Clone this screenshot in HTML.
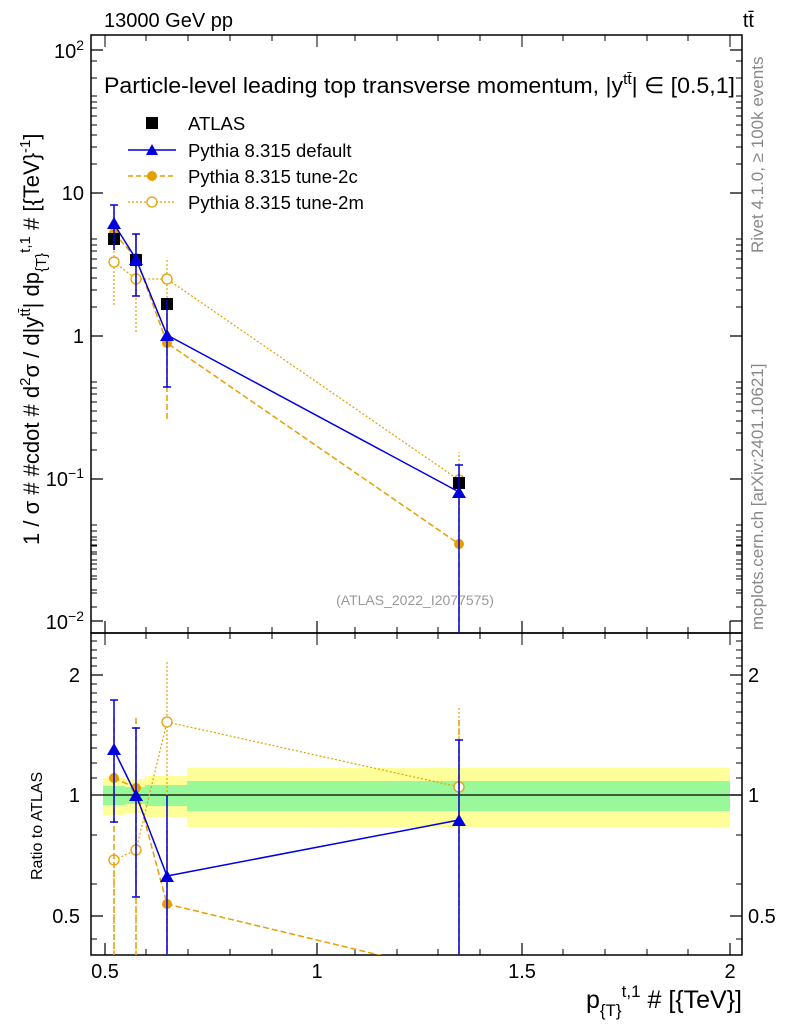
<!DOCTYPE html>
<html><head><meta charset="utf-8"><style>
body{margin:0;background:#fff}
text{font-family:"Liberation Sans",sans-serif}
</style></head><body>
<svg width="786" height="1024" viewBox="0 0 786 1024" xmlns="http://www.w3.org/2000/svg">
<g>
<rect x="103" y="778" width="22" height="37" fill="#ffff99"/>
<rect x="125" y="779" width="20" height="34" fill="#ffff99"/>
<rect x="145" y="776" width="42" height="41" fill="#ffff99"/>
<rect x="187" y="768" width="543" height="59" fill="#ffff99"/>
<rect x="103" y="786" width="22" height="19" fill="#99f899"/>
<rect x="125" y="787" width="20" height="17" fill="#99f899"/>
<rect x="145" y="785" width="42" height="21" fill="#99f899"/>
<rect x="187" y="781" width="543" height="30" fill="#99f899"/>
<line x1="103" y1="795" x2="742" y2="795" stroke="#000" stroke-width="1.3"/>
</g>
<rect x="91" y="35" width="651" height="598" fill="none" stroke="#000" stroke-width="1.5"/>
<rect x="91" y="633" width="651" height="322" fill="none" stroke="#000" stroke-width="1.5"/>
<g stroke="#000" stroke-width="1.2">
<path d="M91,50h12M730,50h12M91,193h12M730,193h12M91,336h12M730,336h12M91,479h12M730,479h12M91,621h12M730,621h12"/>
</g>
<g stroke="#000" stroke-width="1">
<path id="minor" d="M91,164h6M91,147h6M91,135h6M91,125h6M91,116h6M91,108h6M91,102h6M91,96h6"/>
<use href="#minor" transform="translate(0,143)"/><use href="#minor" transform="translate(0,286)"/><use href="#minor" transform="translate(0,429)"/>
<use href="#minor" transform="translate(645,0)"/><use href="#minor" transform="translate(645,143)"/><use href="#minor" transform="translate(645,286)"/><use href="#minor" transform="translate(645,429)"/>
<path d="M91,78h6M91,61h6M91,607h6M91,590h6M91,579h6M91,569h6M91,560h6M91,552h6M91,546h6M91,540h6M736,78h6M736,61h6M736,607h6M736,590h6M736,579h6M736,569h6M736,560h6M736,552h6M736,546h6M736,540h6"/>
</g>
<g stroke="#000" stroke-width="1.2">
<path d="M91,675h12M730,675h12M91,795h12M730,795h12M91,916h12M730,916h12"/>
<path stroke-width="1" d="M91,641h6M91,650h6M91,658h6M91,666h6M91,684h6M91,693h6M91,702h6M91,712h6M91,723h6M91,735h6M91,748h6M91,763h6M91,778h6M91,835h6M91,884h6M91,939h6
M736,641h6M736,650h6M736,658h6M736,666h6M736,684h6M736,693h6M736,702h6M736,712h6M736,723h6M736,735h6M736,748h6M736,763h6M736,778h6M736,835h6M736,884h6M736,939h6"/>
</g>
<g stroke="#000" stroke-width="1.2">
<path d="M105,955v-12M317,955v-12M522,955v-12M730,955v-12M105,633v-12M317,633v-12M522,633v-12M730,633v-12"/>
<path stroke-width="1" d="M146,955v-6M188,955v-6M230,955v-6M272,955v-6M355,955v-6M397,955v-6M438,955v-6M480,955v-6M563,955v-6M605,955v-6M647,955v-6M688,955v-6
M146,633v-6M188,633v-6M230,633v-6M272,633v-6M355,633v-6M397,633v-6M438,633v-6M480,633v-6M563,633v-6M605,633v-6M647,633v-6M688,633v-6
M146,35v6M188,35v6M230,35v6M272,35v6M355,35v6M397,35v6M438,35v6M480,35v6M563,35v6M605,35v6M647,35v6M688,35v6M105,35v12M317,35v12M522,35v12M730,35v12
M146,633v6M188,633v6M230,633v6M272,633v6M355,633v6M397,633v6M438,633v6M480,633v6M563,633v6M605,633v6M647,633v6M688,633v6M105,633v12M317,633v12M522,633v12M730,633v12"/>
</g>
<g font-size="20" text-anchor="end">
<text x="84" y="58">10<tspan font-size="14" dy="-8">2</tspan></text>
<text x="84" y="200">10</text><text x="84" y="343">1</text>
<text x="84" y="486">10<tspan font-size="14" dy="-8">−1</tspan></text>
<text x="84" y="629">10<tspan font-size="14" dy="-8">−2</tspan></text>
<text x="80" y="682">2</text><text x="80" y="802">1</text><text x="80" y="923">0.5</text>
</g>
<g font-size="20" text-anchor="start">
<text x="748" y="682">2</text><text x="748" y="802">1</text><text x="748" y="923">0.5</text>
</g>
<g font-size="20" text-anchor="middle">
<text x="105" y="978">0.5</text><text x="317" y="978">1</text><text x="522" y="978">1.5</text><text x="730" y="978">2</text>
</g>
<text x="742" y="1008" font-size="25" text-anchor="end">p<tspan font-size="17" dy="8">{T}</tspan><tspan font-size="17" dy="-19">t,1</tspan><tspan dy="11"> # [{TeV}]</tspan></text>
<text x="104" y="27" font-size="20">13000 GeV pp</text>
<text x="754" y="27" font-size="20" text-anchor="end">tt̄</text>
<text x="104" y="93" font-size="22.5" textLength="631" lengthAdjust="spacingAndGlyphs">Particle-level leading top transverse momentum, |y<tspan font-size="15" dy="-9">tt̄</tspan><tspan dy="9">| ∈ [0.5,1]</tspan></text>
<text transform="translate(39,545) rotate(-90)" font-size="22">1 / σ # #cdot # d<tspan font-size="15" dy="-9">2</tspan><tspan dy="9">σ / d|y</tspan><tspan font-size="15" dy="-9">tt̄</tspan><tspan dy="9">| dp</tspan><tspan font-size="15" dy="7">{T}</tspan><tspan font-size="15" dy="-16">t,1</tspan><tspan dy="9"> # [{TeV}</tspan><tspan font-size="15" dy="-9">-1</tspan><tspan dy="9">]</tspan></text>
<text transform="translate(42,880) rotate(-90)" font-size="16">Ratio to ATLAS</text>
<text transform="translate(763,253) rotate(-90)" font-size="17" fill="#888">Rivet 4.1.0, ≥ 100k events</text>
<text transform="translate(763,630) rotate(-90)" font-size="17" fill="#888">mcplots.cern.ch [arXiv:2401.10621]</text>
<text x="415" y="605" font-size="14" fill="#999" text-anchor="middle">(ATLAS_2022_I2077575)</text>
<rect x="146" y="117" width="12" height="12" fill="#000"/>
<text x="188" y="130" font-size="18.5">ATLAS</text>
<line x1="128" y1="150" x2="176" y2="150" stroke="#0000dd" stroke-width="1.5"/>
<polygon points="152,144 158,155 146,155" fill="#0000dd"/>
<text x="188" y="157" font-size="18.5">Pythia 8.315 default</text>
<line x1="128" y1="176" x2="176" y2="176" stroke="#e69f00" stroke-width="1.5" stroke-dasharray="5,3"/>
<circle cx="152" cy="176" r="5" fill="#e69f00"/>
<text x="188" y="183" font-size="18.5">Pythia 8.315 tune-2c</text>
<line x1="128" y1="202" x2="176" y2="202" stroke="#e69f00" stroke-width="1.2" stroke-dasharray="2,2"/>
<circle cx="152" cy="202" r="5" fill="#fff" stroke="#e69f00" stroke-width="1.3"/>
<text x="188" y="209" font-size="18.5">Pythia 8.315 tune-2m</text>
<clipPath id="cm"><rect x="91" y="35" width="651" height="598"/></clipPath>
<clipPath id="cr"><rect x="91" y="633" width="651" height="322"/></clipPath>
<g clip-path="url(#cm)">
<g stroke="#e69f00" stroke-width="1.2" stroke-dasharray="2,2" fill="none">
<polyline points="114,262 136,279 167,279 459,480"/>
<path d="M114,305V220M136,332V232M167,330V258M459,525V452"/>
</g>
<g fill="#fff" stroke="#e69f00" stroke-width="1.3">
<circle cx="114" cy="262" r="5"/><circle cx="136" cy="279" r="5"/><circle cx="167" cy="279" r="5"/><circle cx="459" cy="480" r="5"/>
</g>
<g stroke="#e69f00" stroke-width="1.5" stroke-dasharray="6,3" fill="none">
<polyline points="114,233 136,258 167,343 459,544"/>
<path d="M114,250V212M136,295V233M167,419V300M459,640V500"/>
</g>
<g fill="#e69f00"><circle cx="114" cy="233" r="5"/><circle cx="136" cy="258" r="5"/><circle cx="167" cy="343" r="5"/><circle cx="459" cy="544" r="5"/></g>
<g fill="#000"><rect x="108" y="233" width="12" height="12"/><rect x="130" y="254" width="12" height="12"/><rect x="161" y="298" width="12" height="12"/><rect x="453" y="477" width="12" height="12"/></g>
<g stroke="#0000dd" stroke-width="1.5" fill="none">
<polyline points="114,224 136,259 167,335 459,492"/>
<path d="M114,205V250M136,234V296M167,387V300M459,640V465M110,205h8M132,234h8M132,296h8M163,387h8M455,465h8"/>
</g>
<g fill="#0000dd"><polygon points="114,217 121,229 107,229"/><polygon points="136,253 143,265 129,265"/><polygon points="167,329 174,341 160,341"/><polygon points="459,486 466,498 452,498"/></g>
</g>
<g clip-path="url(#cr)">
<g stroke="#e69f00" stroke-width="1.2" stroke-dasharray="2,2" fill="none">
<polyline points="114,860 136,850 167,722 459,787"/>
<path d="M114,870V960M136,770V960M167,662V960M459,708V960"/>
</g>
<g fill="#fff" stroke="#e69f00" stroke-width="1.3">
<circle cx="114" cy="860" r="5"/><circle cx="136" cy="850" r="5"/><circle cx="167" cy="722" r="5"/><circle cx="459" cy="787" r="5"/>
</g>
<g stroke="#e69f00" stroke-width="1.5" stroke-dasharray="6,3" fill="none">
<polyline points="114,778 136,788 167,904 400,960"/>
<path d="M114,718V960M136,718V960M167,960V830M459,960V720"/>
</g>
<g fill="#e69f00"><circle cx="114" cy="778" r="5"/><circle cx="136" cy="788" r="5"/><circle cx="167" cy="904" r="5"/></g>
<g stroke="#0000dd" stroke-width="1.5" fill="none">
<polyline points="114,750 136,795 167,876 459,820"/>
<path d="M114,700V822M136,728V897M167,795V960M459,740V960M110,700h8M110,822h8M132,728h8M132,897h8M455,740h8"/>
</g>
<g fill="#0000dd"><polygon points="114,743 121,755 107,755"/><polygon points="136,789 143,801 129,801"/><polygon points="167,870 174,882 160,882"/><polygon points="459,814 466,826 452,826"/></g>
</g>
</svg>
</body></html>
